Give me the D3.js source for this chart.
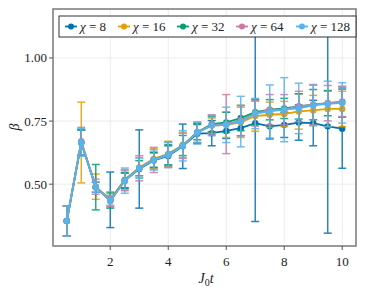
<!DOCTYPE html>
<html>
<head>
<meta charset="utf-8">
<script src="https://cdn.jsdelivr.net/npm/d3@7"></script>
<style>
  body { margin: 0; background: #fff; }
  text { font-family: "Liberation Serif", "DejaVu Serif", serif; }
</style>
</head>
<body>
<svg width="366" height="292"></svg>
<script>
const times = [0.5, 1.0, 1.5, 2.0, 2.5, 3.0, 3.5, 4.0, 4.5, 5.0, 5.5, 6.0, 6.5, 7.0, 7.5, 8.0, 8.5, 9.0, 9.5, 10.0]

const chis = [8, 16, 32, 64, 128]
const colors = ["#0072B2", "#E69F00", "#009E73", "#CC79A7", "#56B4E9"]

const beta8   = [0.354, 0.665, 0.488, 0.438, 0.514, 0.560, 0.594, 0.612, 0.650, 0.700, 0.702, 0.711, 0.722, 0.742, 0.729, 0.735, 0.744, 0.742, 0.729, 0.720]
const beta16  = [0.354, 0.665, 0.490, 0.440, 0.518, 0.566, 0.600, 0.620, 0.655, 0.705, 0.732, 0.735, 0.745, 0.770, 0.775, 0.778, 0.788, 0.792, 0.798, 0.798]
const beta32  = [0.354, 0.665, 0.488, 0.435, 0.516, 0.563, 0.597, 0.617, 0.653, 0.706, 0.738, 0.745, 0.762, 0.785, 0.795, 0.800, 0.808, 0.815, 0.821, 0.825]
const beta64  = [0.354, 0.670, 0.490, 0.432, 0.514, 0.563, 0.596, 0.616, 0.652, 0.705, 0.735, 0.738, 0.752, 0.780, 0.795, 0.795, 0.808, 0.815, 0.821, 0.828]
const beta128 = [0.354, 0.665, 0.488, 0.436, 0.514, 0.563, 0.596, 0.616, 0.652, 0.705, 0.732, 0.735, 0.748, 0.780, 0.788, 0.795, 0.800, 0.812, 0.818, 0.822]

const err8   = [0.06, 0.05, 0.02, 0.11, 0.03, 0.155, 0.03, 0.04, 0.088, 0.04, 0.05, 0.03, 0.03, 0.39, 0.05, 0.05, 0.07, 0.09, 0.423, 0.157]
const err16  = [0.06, 0.16, 0.05, 0.03, 0.04, 0.04, 0.04, 0.05, 0.05, 0.04, 0.03, 0.05, 0.06, 0.06, 0.05, 0.05, 0.07, 0.06, 0.07, 0.07]
const err32  = [0.06, 0.05, 0.09, 0.03, 0.03, 0.03, 0.03, 0.04, 0.04, 0.03, 0.03, 0.04, 0.05, 0.05, 0.04, 0.04, 0.05, 0.06, 0.05, 0.06]
const err64  = [0.06, 0.055, 0.03, 0.02, 0.04, 0.05, 0.05, 0.05, 0.05, 0.04, 0.04, 0.117, 0.06, 0.05, 0.06, 0.06, 0.06, 0.08, 0.07, 0.06]
const err128 = [0.06, 0.055, 0.02, 0.02, 0.05, 0.04, 0.04, 0.05, 0.06, 0.04, 0.04, 0.07, 0.10, 0.06, 0.105, 0.127, 0.10, 0.08, 0.09, 0.08]

const xTicks = [2, 4, 6, 8, 10]
const yTicks = [0.50, 0.75, 1.00]

const betas = [beta8, beta16, beta32, beta64, beta128]
const errs = [err8, err16, err32, err64, err128]

const svg = d3.select("svg")
const mLeft = 53, mRight = 356, mTop = 9, mBottom = 246

const x = d3.scaleLinear().domain([0.025, 10.475]).range([mLeft, mRight])
const y = d3.scaleLinear().domain([0.255, 1.194]).range([mBottom, mTop])

// grid
svg.append("g").selectAll("line").data(xTicks).enter().append("line")
    .attr("x1", d => x(d)).attr("x2", d => x(d))
    .attr("y1", mTop).attr("y2", mBottom)
    .attr("stroke", "#ebebeb").attr("stroke-width", 1)
svg.append("g").selectAll("line").data(yTicks).enter().append("line")
    .attr("x1", mLeft).attr("x2", mRight)
    .attr("y1", d => y(d)).attr("y2", d => y(d))
    .attr("stroke", "#ebebeb").attr("stroke-width", 1)

svg.append("clipPath").attr("id", "clip").append("rect")
    .attr("x", mLeft).attr("y", mTop).attr("width", mRight - mLeft).attr("height", mBottom - mTop)

const plot = svg.append("g").attr("clip-path", "url(#clip)")

const line = d3.line().x(d => x(d.t)).y(d => y(d.b))

chis.forEach((chi, k) => {
    const data = times.map((t, i) => ({ t: t, b: betas[k][i], e: errs[k][i] }))
    const g = plot.append("g")
    const bars = g.append("g").attr("stroke", colors[k]).attr("stroke-width", 1.5).attr("opacity", 0.85)
    data.forEach(d => {
        bars.append("line")
            .attr("x1", x(d.t)).attr("x2", x(d.t))
            .attr("y1", y(d.b - d.e)).attr("y2", y(d.b + d.e))
        bars.append("line")
            .attr("x1", x(d.t) - 4).attr("x2", x(d.t) + 4)
            .attr("y1", y(d.b - d.e)).attr("y2", y(d.b - d.e))
        bars.append("line")
            .attr("x1", x(d.t) - 4).attr("x2", x(d.t) + 4)
            .attr("y1", y(d.b + d.e)).attr("y2", y(d.b + d.e))
    })
    g.append("path").datum(data)
        .attr("d", line)
        .attr("fill", "none")
        .attr("stroke", colors[k])
        .attr("stroke-width", 1.8)
    g.selectAll("circle").data(data).enter().append("circle")
        .attr("cx", d => x(d.t)).attr("cy", d => y(d.b))
        .attr("r", 3.2)
        .attr("fill", colors[k])
})

// frame
svg.append("rect")
    .attr("x", mLeft).attr("y", mTop).attr("width", mRight - mLeft).attr("height", mBottom - mTop)
    .attr("fill", "none").attr("stroke", "#808080").attr("stroke-width", 1.6)

// ticks
svg.append("g").selectAll("line").data(xTicks).enter().append("line")
    .attr("x1", d => x(d)).attr("x2", d => x(d))
    .attr("y1", mBottom).attr("y2", mBottom + 4)
    .attr("stroke", "#555").attr("stroke-width", 1)
svg.append("g").selectAll("text").data(xTicks).enter().append("text")
    .attr("x", d => x(d)).attr("y", 266)
    .attr("text-anchor", "middle").attr("font-size", 13).attr("fill", "#222")
    .text(d => d)
svg.append("g").selectAll("line").data(yTicks).enter().append("line")
    .attr("x1", mLeft - 4).attr("x2", mLeft)
    .attr("y1", d => y(d)).attr("y2", d => y(d))
    .attr("stroke", "#555").attr("stroke-width", 1)
svg.append("g").selectAll("text").data(yTicks).enter().append("text")
    .attr("x", 47).attr("y", d => y(d) + 4.5)
    .attr("text-anchor", "end").attr("font-size", 13).attr("fill", "#222")
    .text(d => d3.format(".2f")(d))

// axis labels
const xl = svg.append("text").attr("x", 206).attr("y", 283)
    .attr("text-anchor", "middle").attr("font-size", 14).attr("fill", "#222")
xl.append("tspan").attr("font-style", "italic").text("J")
xl.append("tspan").attr("font-size", 10).attr("dy", 3).text("0")
xl.append("tspan").attr("font-style", "italic").attr("dy", -3).text("t")

svg.append("text")
    .attr("transform", "translate(19,127) rotate(-90)")
    .attr("text-anchor", "middle").attr("font-size", 14).attr("font-style", "italic").attr("fill", "#222")
    .text("β")

// legend
const legend = svg.append("g")
legend.append("rect")
    .attr("x", 59).attr("y", 16).attr("width", 297).attr("height", 21)
    .attr("fill", "#fff").attr("stroke", "#333").attr("stroke-width", 1)
const legendX = [65, 118, 177, 236, 296]
chis.forEach((chi, k) => {
    const lx = legendX[k]
    legend.append("line")
        .attr("x1", lx).attr("x2", lx + 12).attr("y1", 26.5).attr("y2", 26.5)
        .attr("stroke", colors[k]).attr("stroke-width", 1.8)
    legend.append("circle").attr("cx", lx + 6).attr("cy", 26.5).attr("r", 3).attr("fill", colors[k])
    const t = legend.append("text").attr("x", lx + 15).attr("y", 31)
        .attr("font-size", 13).attr("fill", "#222")
    t.append("tspan").attr("font-style", "italic").text("χ")
    t.append("tspan").text(" = " + chi)
})
</script>
</body>
</html>
